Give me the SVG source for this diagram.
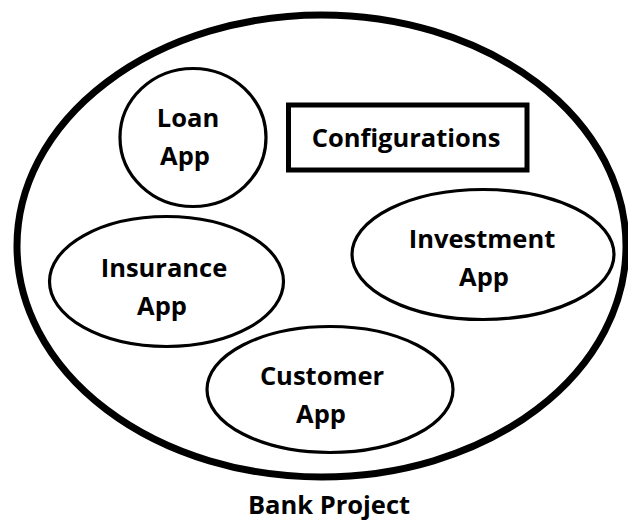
<svg xmlns="http://www.w3.org/2000/svg" width="628" height="520" viewBox="0 0 628 520">
<style>
.s{fill:#fff;stroke:#000;stroke-width:3.2}
.t{font-family:"Open Sans",Lato,sans-serif;font-weight:bold;font-size:25.5px;fill:#000;text-anchor:middle}
</style>
<rect width="628" height="520" fill="#fff"/>
<g id="bank-project">
<ellipse cx="321.5" cy="246" rx="304.5" ry="231" fill="#fff" stroke="#000" stroke-width="7"/>
<text class="t" x="329" y="514">Bank Project</text>
</g>
<g id="loan-app">
<ellipse class="s" cx="193" cy="137.5" rx="73" ry="69"/>
<text class="t" x="188" y="127">Loan</text>
<text class="t" x="185" y="165">App</text>
</g>
<g id="configurations">
<rect x="288.5" y="105" width="238.5" height="65" fill="#fff" stroke="#000" stroke-width="5"/>
<text class="t" x="406" y="147">Configurations</text>
</g>
<g id="investment-app">
<ellipse class="s" cx="483" cy="254.5" rx="131" ry="65"/>
<text class="t" x="482" y="248">Investment</text>
<text class="t" x="484" y="286">App</text>
</g>
<g id="insurance-app">
<ellipse class="s" cx="166.5" cy="281.5" rx="117" ry="65"/>
<text class="t" x="164" y="277">Insurance</text>
<text class="t" x="162" y="315">App</text>
</g>
<g id="customer-app">
<ellipse class="s" cx="330" cy="389.5" rx="123" ry="63"/>
<text class="t" x="322" y="385">Customer</text>
<text class="t" x="321" y="423">App</text>
</g>
<g id="connectors"/>
</svg>
